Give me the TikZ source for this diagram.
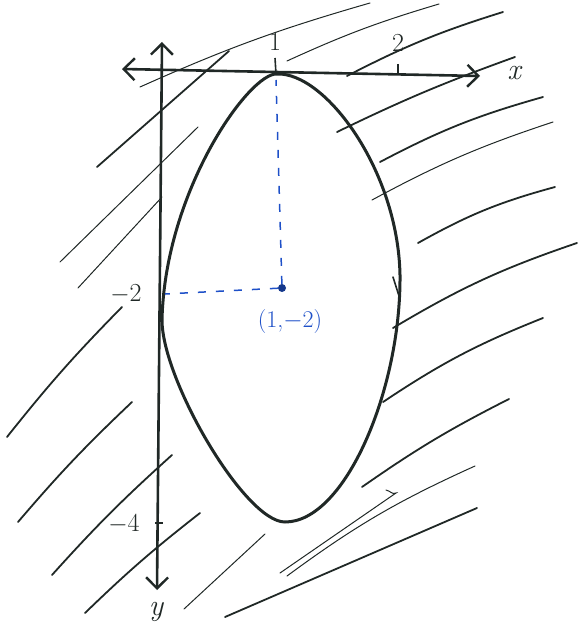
\documentclass[tikz,border=0pt]{standalone}
\usetikzlibrary{arrows.meta}
\definecolor{ink}{RGB}{32,40,38}
\definecolor{bink}{RGB}{30,80,200}
\tikzset{
  axisline/.style={ink, line width=2.6pt, line cap=round},
  curveline/.style={ink, line width=3pt, line cap=round, line join=round},
  hatch/.style={ink, line width=1.8pt, line cap=round},
  hatchthin/.style={ink, line width=1.0pt, line cap=round},
  guide/.style={bink, line width=1.5pt, dash pattern=on 8pt off 10pt},
  lbl/.style={ink, inner sep=0pt, font=\fontsize{26}{28}\selectfont},
  blbl/.style={bink, inner sep=0pt, font=\fontsize{24}{26}\selectfont},
  barbtip/.tip={Straight Barb[length=11pt,width=22pt,line width=2.4pt]}
}
\begin{document}
\begin{tikzpicture}[x=1pt,y=-1pt]
\useasboundingbox (0,0) rectangle (578,639);
% hatching
\draw[hatchthin] (140,87) to[bend left=4] (370,3);
\draw[hatchthin] (287,61) to[bend left=4] (439,4);
\draw[hatch] (347,76) to[bend left=5] (503,12);
\draw[hatch] (337,132) to[bend left=3] (515,57);
\draw[hatch] (380,162) to[bend left=6] (543,97);
\draw[hatchthin] (372,200) to[bend left=5] (553,122);
\draw[hatch] (418,243) to[bend left=7] (555,187);
\draw[hatch] (393,328) to[bend left=6] (577,243);
\draw[hatch] (383,402) to[bend left=6] (543,318);
\draw[hatch] (362,487) to[bend left=4] (509,399);
\draw[hatchthin] (280,573) -- (396,493) to[out=-150,in=-10] (386,490);
\draw[hatchthin] (287,576) to[bend left=6] (475,466);
\draw[hatch] (225,617) -- (477,508);
\draw[hatchthin] (184,609) -- (265,534);
\draw[hatch] (85,613) to[bend left=3] (200,513);
\draw[hatch] (52,575) to[bend left=3] (172,455);
\draw[hatch] (18,522) to[bend left=3] (132,402);
\draw[hatch] (7,437) to[bend left=3] (122,307);
\draw[hatchthin] (78,288) -- (162,197);
\draw[hatchthin] (60,262) -- (198,127);
\draw[hatch] (97,167) -- (229,51);
% axes
\coordinate (xl) at (122,69);
\coordinate (xr) at (480,76);
\coordinate (yt) at (162,42);
\coordinate (yb) at (157,590);
\draw[axisline, barbtip-barbtip] (xl) -- (xr);
\draw[axisline, barbtip-barbtip] (yb) -- (yt);
% ticks
\coordinate (t1a) at (275,58); \coordinate (t1b) at (276,74);
\draw[ink, line width=1.6pt] (t1a) -- (t1b);
\coordinate (t2a) at (398,64); \coordinate (t2b) at (398,73);
\draw[ink, line width=1.6pt] (t2a) -- (t2b);
\coordinate (t4a) at (155,523); \coordinate (t4b) at (163,523);
\draw[ink, line width=1.6pt] (t4a) -- (t4b);
% curve
\coordinate (etop) at (277,74);
\coordinate (eright) at (400,275);
\coordinate (ebot) at (285,522);
\coordinate (eleft) at (162,320);
\draw[curveline] (etop) .. controls (325,72) and (398,170) .. (eright)
  .. controls (401,390) and (345,522) .. (ebot)
  .. controls (245,522) and (162,380) .. (eleft)
  .. controls (165,190) and (250,72) .. (etop) -- cycle;
\coordinate (m1) at (393,277); \coordinate (m2) at (399,296);
\draw[ink, line width=1.6pt, line cap=round] (m1) -- (m2);
% centre and guides
\node[circle, fill=bink!70!black, inner sep=0pt, minimum size=8pt] (c) at (282,288) {};
\coordinate (ctop) at (276,80);
\coordinate (cleft) at (165,294);
\draw[guide] (c) -- (ctop);
\draw[guide] (c) -- (cleft);
% labels
\node[lbl] (l1) at (275,42) {1};
\node[lbl] (l2) at (398,43) {2};
\node[lbl, font=\fontsize{30}{32}\selectfont\itshape] (lx) at (514,73) {x};
\node[lbl, font=\fontsize{30}{32}\selectfont\itshape] (ly) at (156,612) {y};
\node[lbl] (lm2) at (126,294) {$-$2};
\node[lbl] (lm4) at (124,524) {$-$4};
\node[blbl] (lc) at (290,322) {(1,$-$2)};
\end{tikzpicture}
\end{document}
